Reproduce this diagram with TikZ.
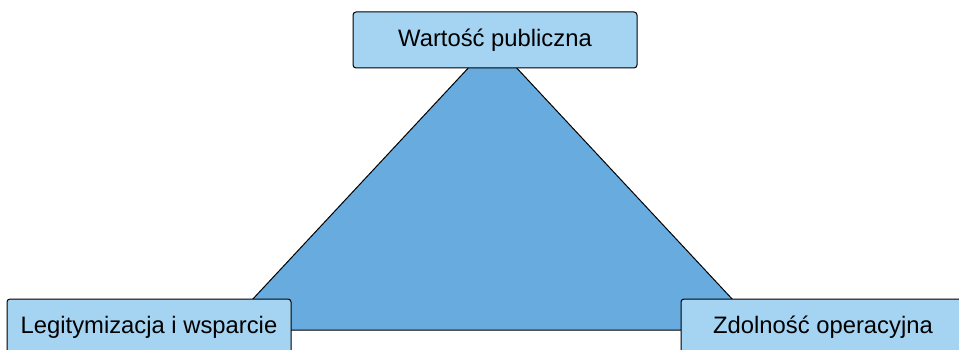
\documentclass[tikz,border=0pt]{standalone}
\usepackage{fontspec}
\setmainfont{Liberation Sans}
\definecolor{boxfill}{HTML}{A5D4F3}
\definecolor{trifill}{HTML}{67ABDF}
\begin{document}
\begin{tikzpicture}[x=1pt,y=-1pt,
  pillar/.style={draw=black, line width=1pt, fill=boxfill, rounded corners=3pt,
    minimum width=284pt, minimum height=56pt, inner sep=0pt,
    font=\fontsize{23.8}{28}\selectfont},
  core/.style={draw=black, line width=1pt, fill=trifill}]
\useasboundingbox (0,0) rectangle (959,350);
% triangle behind the three boxes
\coordinate (apex) at (492.5,42);
\coordinate (bl) at (224,330);
\coordinate (br) at (761,330);
\draw[core] (apex) -- (br) -- (bl) -- cycle;
\node[pillar] (value) at (495,40) {Wartość publiczna};
\node[pillar] (legit) at (149,327) {Legitymizacja i wsparcie};
\node[pillar] (oper) at (823,327) {Zdolność operacyjna};
\end{tikzpicture}
\end{document}
